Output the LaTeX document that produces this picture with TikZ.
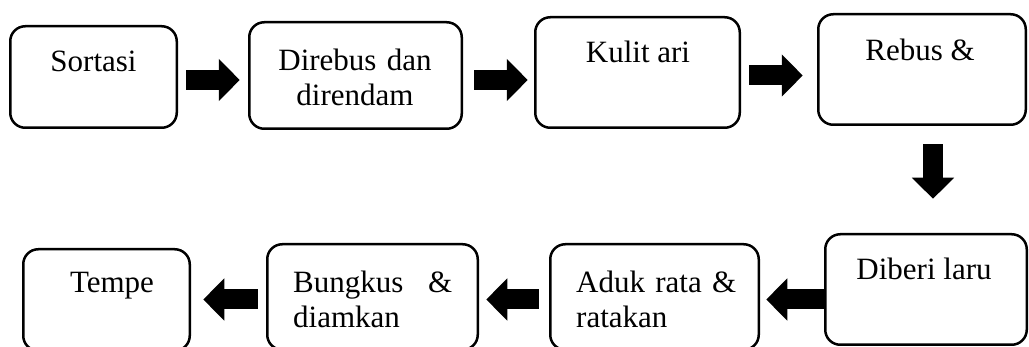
\documentclass[tikz,border=0pt]{standalone}
\usepackage{fontspec}
\setmainfont{Liberation Serif}
\usetikzlibrary{arrows.meta,positioning}

\begin{document}
\begin{tikzpicture}[x=1pt,y=1pt,
		stepbox/.style={draw=black, line width=2.5pt, rounded corners=15pt, inner sep=0pt},
		steptext/.style={inner sep=0pt, font=\fontsize{31}{35}\selectfont},
		flowarrow/.style={line width=20pt, -{Triangle[length=21pt,width=41pt]}}]
		\useasboundingbox (0,0) rectangle (1029,-347);
		% top row
		\node [stepbox, minimum width=166.5pt, minimum height=101.5pt] (sortasi) at (93.5,-77) {};
		\node [stepbox, minimum width=212.5pt, minimum height=106.5pt] (direbus) at (355.5,-75.5) {};
		\node [stepbox, minimum width=204.5pt, minimum height=110.5pt] (kulit) at (637.5,-72.5) {};
		\node [stepbox, minimum width=207.5pt, minimum height=110.5pt] (rebus) at (922,-69.5) {};
		\node [steptext, anchor=base] (sortasiT) at (93.5,-72) {Sortasi};
		\node [steptext, anchor=base, text width=170pt, align=center] (direbusT) at (355,-71) {Direbus dan\\direndam};
		\node [steptext, anchor=base] (kulitT) at (638,-63) {Kulit ari};
		\node [steptext, anchor=base] (rebusT) at (920,-61) {Rebus \&};
		% bottom row
		\node [stepbox, minimum width=201.5pt, minimum height=110.5pt] (diberi) at (926,-289.5) {};
		\node [stepbox, minimum width=208.5pt, minimum height=105.5pt] (aduk) at (654.5,-297) {};
		\node [stepbox, minimum width=210.5pt, minimum height=105.5pt] (bungkus) at (372.5,-297) {};
		\node [stepbox, minimum width=166.5pt, minimum height=101.5pt] (tempe) at (106.5,-300) {};
		\node [steptext, anchor=base] (diberiT) at (924,-280) {Diberi laru};
		\node [steptext, anchor=base west, text width=175pt, align=left] (adukT) at (576,-293) {Aduk rata \&\\ratakan};
		\node [steptext, anchor=base west, text width=159pt, align=left] (bungkusT) at (293,-293) {Bungkus\hfill\&\\diamkan};
		\node [steptext, anchor=base] (tempeT) at (112,-293) {Tempe};
		% arrows
		\draw [flowarrow, shorten <=8.25pt, shorten >=8.25pt] (sortasi.east |- 0,-80) -- (direbus.west |- 0,-80);
		\draw [flowarrow, shorten <=11.25pt, shorten >=6.25pt] (direbus.east |- 0,-80) -- (kulit.west |- 0,-80);
		\draw [flowarrow, shorten <=8.25pt, shorten >=14.25pt] (kulit.east |- 0,-75.5) -- (rebus.west |- 0,-75.5);
		\draw [flowarrow, shorten <=18.25pt, shorten >=34.25pt] (rebus.south -| 933,0) -- (diberi.north -| 933,0);
		\draw [flowarrow, shorten <=-2pt, shorten >=6.25pt] (diberi.west |- 0,-299.5) -- (aduk.east |- 0,-299.5);
		\draw [flowarrow, shorten <=10.25pt, shorten >=7.25pt] (aduk.west |- 0,-299.5) -- (bungkus.east |- 0,-299.5);
		\draw [flowarrow, shorten <=8.25pt, shorten >=12.25pt] (bungkus.west |- 0,-299.5) -- (tempe.east |- 0,-299.5);
\end{tikzpicture}
\end{document}
